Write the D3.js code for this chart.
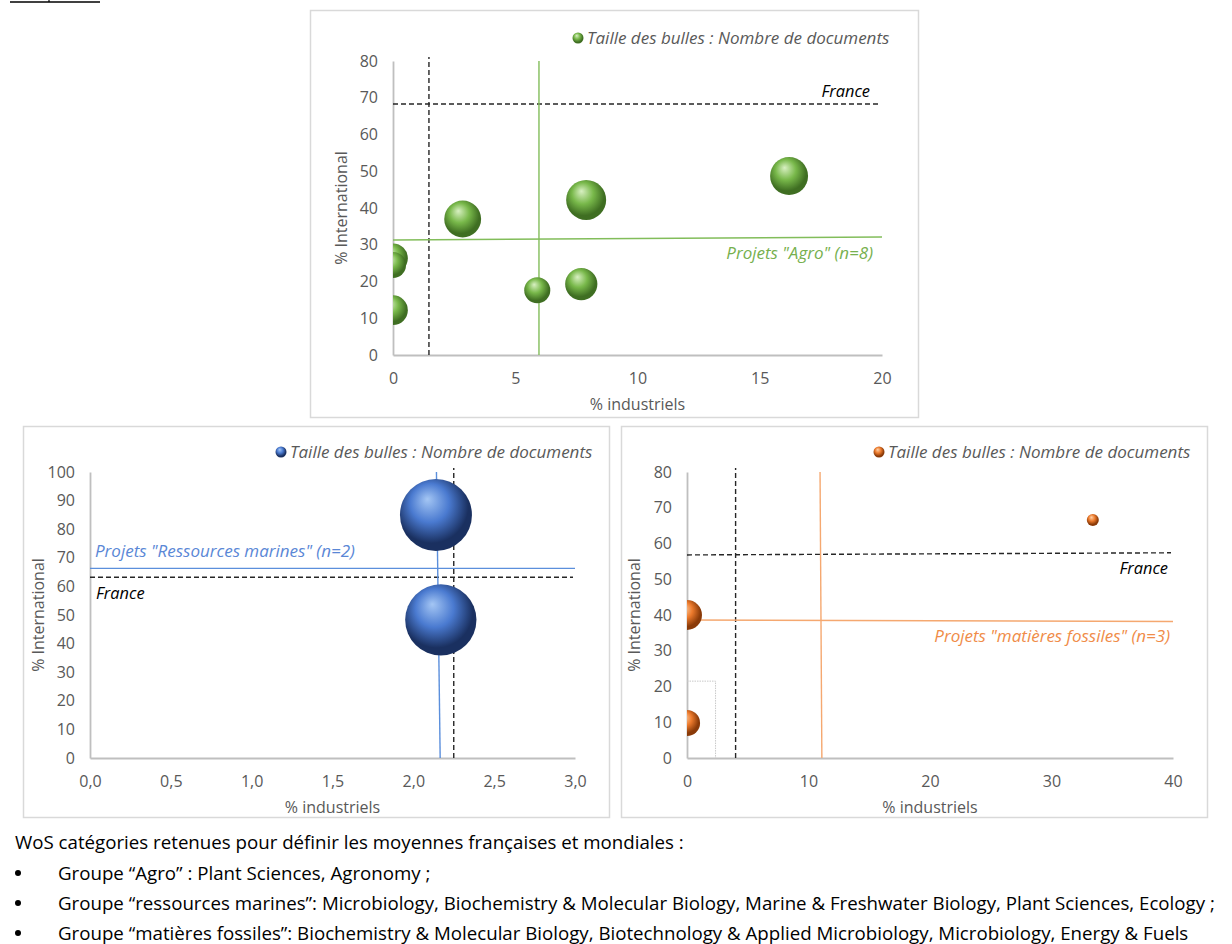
<!DOCTYPE html>
<html>
<head>
<meta charset="utf-8">
<script src="https://cdn.jsdelivr.net/npm/d3@7"></script>
<style>
  body { margin: 0; background: #fff; }
  svg { display: block; font-family: "Open Sans", "Noto Sans", sans-serif; }
</style>
</head>
<body>
<svg id="fig" width="1232" height="944"></svg>
<script>
// ---- Groupe "Agro" ----
const agroIndustriels   = [0, 0, 0, 2.85, 5.9, 7.7, 7.9, 16.2];
const agroInternational = [12.2, 24.5, 26.3, 37.0, 17.6, 19.3, 42.2, 48.7];
const agroDocuments     = [22, 17, 22, 34, 17, 26, 40, 36];
const agroProjetsX = [5.97, 5.97];   // mean % industriels (at y min, y max)
const agroProjetsY = [31.3, 32.1];   // mean % international (at x min, x max)
const agroFranceX  = [1.47, 1.47];
const agroFranceY  = [68.3, 68.3];
const agroXTicks = [0, 5, 10, 15, 20];
const agroYTicks = [0, 10, 20, 30, 40, 50, 60, 70, 80];

// ---- Groupe "Ressources marines" ----
const marIndustriels   = [2.14, 2.17];
const marInternational = [85.0, 48.3];
const marDocuments     = [51, 50];
const marProjetsX = [2.166, 2.143];
const marProjetsY = [66.3, 66.3];
const marFranceX  = [2.25, 2.25];
const marFranceY  = [63.2, 63.2];
const marXTicks = [0, 0.5, 1.0, 1.5, 2.0, 2.5, 3.0];
const marYTicks = [0, 10, 20, 30, 40, 50, 60, 70, 80, 90, 100];

// ---- Groupe "Matières fossiles" ----
const fosIndustriels   = [0, 0, 33.4];
const fosInternational = [40.0, 9.8, 66.6];
const fosDocuments     = [25, 19, 4];
const fosProjetsX = [11.1, 10.95];
const fosProjetsY = [38.6, 38.2];
const fosFranceX  = [4.0, 4.0];
const fosFranceY  = [56.8, 57.4];
const fosMondeX   = [2.35];
const fosMondeY   = [21.5];
const fosXTicks = [0, 10, 20, 30, 40];
const fosYTicks = [0, 10, 20, 30, 40, 50, 60, 70, 80];

const legendText = "Taille des bulles : Nombre de documents";

const footerLines = [
  "WoS catégories retenues pour définir les moyennes françaises et mondiales :",
  "Groupe \u201CAgro\u201D : Plant Sciences, Agronomy ;",
  "Groupe \u201Cressources marines\u201D: Microbiology, Biochemistry & Molecular Biology, Marine & Freshwater Biology, Plant Sciences, Ecology ;",
  "Groupe \u201Cmatières fossiles\u201D: Biochemistry & Molecular Biology, Biotechnology & Applied Microbiology, Microbiology, Energy & Fuels"
];

const svg = d3.select("#fig");
const defs = svg.append("defs");
const frFmt = d3.formatLocale({decimal: ",", thousands: " ", grouping: [3], currency: ["", " €"]}).format(".1f");

// 3D sphere shading for each bubble colour
function sphereGradient(id, light, mid, dark) {
  const g = defs.append("radialGradient").attr("id", id)
    .attr("cx", "45%").attr("cy", "40%").attr("r", "60%")
    .attr("fx", "38%").attr("fy", "28%");
  g.append("stop").attr("offset", "0%").attr("stop-color", light);
  g.append("stop").attr("offset", "45%").attr("stop-color", mid);
  g.append("stop").attr("offset", "85%").attr("stop-color", dark);
  g.append("stop").attr("offset", "100%").attr("stop-color", dark);
}
sphereGradient("gGreen", "#d8f0c2", "#78b84a", "#3f6e22");
sphereGradient("gBlue", "#a4c6f4", "#4a7ad0", "#1a3060");
sphereGradient("gOrange", "#ffd2a8", "#ec7a2c", "#8a3a08");

// Heading underline (top edge of page)
svg.append("line").attr("x1", 10).attr("x2", 100).attr("y1", 2).attr("y2", 2)
  .attr("stroke", "#000").attr("stroke-width", 1.6);
svg.append("line").attr("x1", 49).attr("x2", 49).attr("y1", 0).attr("y2", 2)
  .attr("stroke", "#000").attr("stroke-width", 1.2);

function drawPanel(cfg) {
  const g = svg.append("g");
  g.append("rect")
    .attr("x", cfg.box.x).attr("y", cfg.box.y)
    .attr("width", cfg.box.w).attr("height", cfg.box.h)
    .attr("fill", "#fff").attr("stroke", "#d9d9d9").attr("stroke-width", 1.5);

  const x = d3.scaleLinear().domain(cfg.xDomain).range([cfg.plot.left, cfg.plot.right]);
  const y = d3.scaleLinear().domain(cfg.yDomain).range([cfg.plot.bottom, cfg.plot.top]);
  const r = d3.scaleSqrt().domain([0, d3.max(cfg.docs)]).range([0, cfg.rMax]);

  // axes
  const yAxis = g.append("g").attr("transform", `translate(${cfg.plot.left},0)`)
    .call(d3.axisLeft(y).tickValues(cfg.yTicks).tickSize(0).tickPadding(15).tickSizeOuter(0));
  const xAxis = g.append("g").attr("transform", `translate(0,${cfg.plot.bottom})`)
    .call(d3.axisBottom(x).tickValues(cfg.xTicks).tickSize(0).tickPadding(18).tickSizeOuter(0)
      .tickFormat(cfg.xFormat || d3.format("d")));
  [xAxis, yAxis].forEach(a => {
    a.select(".domain").attr("stroke", "#bfbfbf").attr("stroke-width", 1.8);
    a.selectAll("text").attr("fill", "#595959").attr("font-size", 16)
      .attr("font-family", "\"Open Sans\", \"Noto Sans\", sans-serif");
  });

  // axis titles
  g.append("text").attr("x", (cfg.plot.left + cfg.plot.right) / 2).attr("y", cfg.plot.bottom + 49)
    .attr("text-anchor", "middle").attr("dy", "0.35em")
    .attr("fill", "#595959").attr("font-size", 16).text("% industriels");
  g.append("text")
    .attr("transform", `translate(${cfg.yTitleX},${(cfg.plot.top + cfg.plot.bottom) / 2}) rotate(-90)`)
    .attr("text-anchor", "middle").attr("dy", "0.35em")
    .attr("fill", "#595959").attr("font-size", 16).text("% International");

  // world reference (light dotted corner) when present
  if (cfg.mondeX) {
    const p = d3.path();
    p.moveTo(x(cfg.xDomain[0]), y(cfg.mondeY[0]));
    p.lineTo(x(cfg.mondeX[0]), y(cfg.mondeY[0]));
    p.lineTo(x(cfg.mondeX[0]), y(cfg.yDomain[0]));
    g.append("path").attr("d", p.toString()).attr("fill", "none")
      .attr("stroke", "#c8c8c8").attr("stroke-width", 1).attr("stroke-dasharray", "1.5,1");
  }

  // France averages (dashed)
  g.append("line")
    .attr("x1", x(cfg.franceX[0])).attr("x2", x(cfg.franceX[1]))
    .attr("y1", y(cfg.yDomain[0])).attr("y2", y(cfg.yDomain[1]) - 4)
    .attr("stroke", "#262626").attr("stroke-width", 1.4).attr("stroke-dasharray", "5,3");
  g.append("line")
    .attr("x1", x(cfg.xDomain[0])).attr("x2", x(cfg.xDomain[1]) - 2)
    .attr("y1", y(cfg.franceY[0])).attr("y2", y(cfg.franceY[1]))
    .attr("stroke", "#262626").attr("stroke-width", 1.4).attr("stroke-dasharray", "5,3");

  // project-group averages (solid)
  g.append("line")
    .attr("x1", x(cfg.projetsX[0])).attr("x2", x(cfg.projetsX[1]))
    .attr("y1", y(cfg.yDomain[0])).attr("y2", y(cfg.yDomain[1]))
    .attr("stroke", cfg.lineColor).attr("stroke-width", 1.4);
  g.append("line")
    .attr("x1", x(cfg.xDomain[0])).attr("x2", x(cfg.xDomain[1]))
    .attr("y1", y(cfg.projetsY[0])).attr("y2", y(cfg.projetsY[1]))
    .attr("stroke", cfg.lineColor).attr("stroke-width", 1.4);

  // bubbles, clipped to the plot area
  const clipId = cfg.id + "Clip";
  defs.append("clipPath").attr("id", clipId).append("rect")
    .attr("x", cfg.plot.left).attr("y", cfg.plot.top - 30)
    .attr("width", cfg.plot.right - cfg.plot.left + 30)
    .attr("height", cfg.plot.bottom - cfg.plot.top + 30);
  const pts = cfg.xs.map((v, i) => ({x: v, y: cfg.ys[i], d: cfg.docs[i]}))
    .sort((a, b) => b.d - a.d);
  g.append("g").attr("clip-path", `url(#${clipId})`)
    .selectAll("circle").data(pts).join("circle")
    .attr("cx", d => x(d.x)).attr("cy", d => y(d.y)).attr("r", d => r(d.d))
    .attr("fill", `url(#${cfg.grad})`);

  // labels
  g.append("text").attr("x", cfg.franceLabel.x).attr("y", cfg.franceLabel.y)
    .attr("text-anchor", cfg.franceLabel.anchor).attr("dy", "0.35em")
    .attr("font-style", "italic").attr("font-size", 16.4).attr("fill", "#000").text("France");
  g.append("text").attr("x", cfg.projLabel.x).attr("y", cfg.projLabel.y)
    .attr("text-anchor", cfg.projLabel.anchor).attr("dy", "0.35em")
    .attr("font-style", "italic").attr("font-size", 17).attr("fill", cfg.labelColor).text(cfg.projText);

  // legend
  g.append("circle").attr("cx", cfg.legend.x).attr("cy", cfg.legend.y).attr("r", 5.5)
    .attr("fill", `url(#${cfg.grad})`);
  g.append("text").attr("x", cfg.legend.x + 9).attr("y", cfg.legend.y).attr("dy", "0.35em")
    .attr("font-style", "italic").attr("font-size", 17).attr("fill", "#595959").text(legendText);
}

drawPanel({
  id: "agro",
  box: {x: 310.5, y: 10.5, w: 608, h: 407},
  plot: {left: 393, right: 882, top: 61, bottom: 355},
  xDomain: [0, 20], yDomain: [0, 80],
  xTicks: agroXTicks, yTicks: agroYTicks,
  xs: agroIndustriels, ys: agroInternational, docs: agroDocuments, rMax: 20,
  projetsX: agroProjetsX, projetsY: agroProjetsY,
  franceX: agroFranceX, franceY: agroFranceY,
  grad: "gGreen", lineColor: "#82bd5a", labelColor: "#76b04e",
  projText: "Projets \"Agro\" (n=8)",
  projLabel: {x: 873, y: 253, anchor: "end"},
  franceLabel: {x: 870, y: 91, anchor: "end"},
  legend: {x: 578, y: 38},
  yTitleX: 341
});

drawPanel({
  id: "mar",
  box: {x: 23.5, y: 426.5, w: 586, h: 391},
  plot: {left: 90, right: 575, top: 472, bottom: 758},
  xDomain: [0, 3], yDomain: [0, 100],
  xTicks: marXTicks, yTicks: marYTicks, xFormat: frFmt,
  xs: marIndustriels, ys: marInternational, docs: marDocuments, rMax: 36,
  projetsX: marProjetsX, projetsY: marProjetsY,
  franceX: marFranceX, franceY: marFranceY,
  grad: "gBlue", lineColor: "#5b8fdc", labelColor: "#5a87d6",
  projText: "Projets \"Ressources marines\" (n=2)",
  projLabel: {x: 95, y: 551, anchor: "start"},
  franceLabel: {x: 96, y: 593, anchor: "start"},
  legend: {x: 281, y: 452},
  yTitleX: 38
});

drawPanel({
  id: "fos",
  box: {x: 621.5, y: 426.5, w: 586, h: 391},
  plot: {left: 687, right: 1173, top: 472, bottom: 758},
  xDomain: [0, 40], yDomain: [0, 80],
  xTicks: fosXTicks, yTicks: fosYTicks,
  xs: fosIndustriels, ys: fosInternational, docs: fosDocuments, rMax: 15,
  projetsX: fosProjetsX, projetsY: fosProjetsY,
  franceX: fosFranceX, franceY: fosFranceY,
  mondeX: fosMondeX, mondeY: fosMondeY,
  grad: "gOrange", lineColor: "#f5a870", labelColor: "#f08c48",
  projText: "Projets \"matières fossiles\" (n=3)",
  projLabel: {x: 1170, y: 636, anchor: "end"},
  franceLabel: {x: 1168, y: 568, anchor: "end"},
  legend: {x: 879, y: 452},
  yTitleX: 634
});

// footer notes
const foot = svg.append("g").attr("font-size", 18.7).attr("fill", "#000");
foot.append("text").attr("x", 15).attr("y", 842).attr("dy", "0.35em").text(footerLines[0]);
footerLines.slice(1).forEach((t, i) => {
  const cy = 873 + i * 30;
  foot.append("circle").attr("cx", 18).attr("cy", cy).attr("r", 3).attr("fill", "#000");
  foot.append("text").attr("x", 58).attr("y", cy).attr("dy", "0.35em").text(t);
});
</script>
</body>
</html>
